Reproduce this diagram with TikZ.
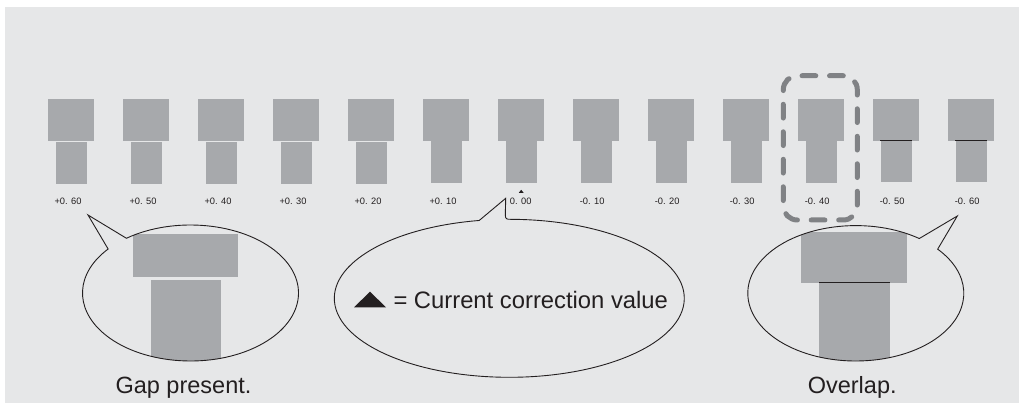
\documentclass[tikz,border=0pt]{standalone}
\usepackage{fontspec}
\setmainfont{Liberation Sans}
\definecolor{bgc}{HTML}{E6E7E8}
\definecolor{blk}{HTML}{A7A9AC}
\definecolor{dsh}{HTML}{808285}
\definecolor{ink}{HTML}{231F20}
\tikzset{
  topblk/.style={fill=blk, draw=none, inner sep=0pt, minimum width=46pt, minimum height=41.7pt},
  botblk/.style={fill=blk, draw=none, inner sep=0pt, minimum width=31pt, minimum height=42pt},
  seam/.style={draw=ink, line width=0.8pt},
  vallab/.style={font=\fontsize{9.3}{10}\selectfont, text=ink, inner sep=0pt},
  bubble/.style={draw=ink, line width=0.9pt, line join=miter},
  bigtxt/.style={font=\fontsize{23.5}{26}\selectfont, text=ink, inner sep=0pt},
  midtxt/.style={font=\fontsize{23.8}{26}\selectfont, text=ink, inner sep=0pt},
  hilite/.style={draw=dsh, line width=5pt, dash pattern=on 13.75pt off 13.75pt, line cap=round, rounded corners=14pt, inner sep=0pt, fill=none}
}
\begin{document}
\begin{tikzpicture}[x=1pt,y=-1pt]
\useasboundingbox (0,0) rectangle (1019,403);
\fill[bgc] (5,7) rectangle (1019,403);

% row of samples
\foreach \i/\lab/\by/\ln/\dx in {
  0/+0. 60/142/0/10.7, 1/+0. 50/142/0/10.7, 2/+0. 40/142/0/10.7,
  3/+0. 30/142/0/10.7, 4/+0. 20/142/0/10.7, 5/+0. 10/141/0/10.7,
  6/0. 00/141/0/10.7, 7/-0. 10/141/0/8.7, 8/-0. 20/141/0/8.7,
  9/-0. 30/141/0/8.7, 10/-0. 40/141/0/8.7, 11/-0. 50/140/1/8.7,
  12/-0. 60/140/1/8.7}{
  \node[topblk] (top\i) at ({71+75*\i},119.85) {};
  \node[botblk, anchor=north] (bot\i) at ({71+75*\i},\by) {};
  \ifnum\ln=1
    \draw[seam] (bot\i.north west) -- (bot\i.north east);
  \fi
  \node[vallab, anchor=base east] (lab\i) at ({71+75*\i+\dx},205) {\lab};
}

% current value marker
\fill[ink] (518.8,192.8) -- (523.6,192.8) -- (521.2,189.8) -- cycle;

% highlight around -0.40
\node[hilite, minimum width=74pt, minimum height=144.3pt] (hl) at (820.3,147.85) {};

% left callout: gap
\coordinate (cL) at (190.5,293);
\coordinate (tipL) at (88,215);
\begin{scope}
  \clip (cL) ellipse [x radius=108pt, y radius=68pt];
  \fill[blk] (133,234) rectangle (238,277);
  \fill[blk] (151,280) rectangle (221,370);
\end{scope}
\draw[bubble] (cL) ++(126.4:108pt and 68pt)
  arc[start angle=126.4, end angle=-220.3, x radius=108pt, y radius=68pt]
  -- (tipL) -- cycle;
\node[bigtxt, anchor=base] (gap) at (183.5,393.5) {Gap present.};

% right callout: overlap
\coordinate (cR) at (855.8,293.3);
\coordinate (tipR) at (957.3,216);
\begin{scope}
  \clip (cR) ellipse [x radius=108pt, y radius=67.7pt];
  \fill[blk] (801,232) rectangle (907,282.7);
  \fill[blk] (819,282) rectangle (890,370);
  \draw[seam] (819,282.3) -- (890,282.3);
\end{scope}
\draw[bubble] (cR) ++(54:108pt and 67.7pt)
  arc[start angle=54, end angle=400.7, x radius=108pt, y radius=67.7pt]
  -- (tipR) -- cycle;
\node[bigtxt, anchor=base] (ovl) at (852.2,393.3) {Overlap.};

% centre callout: legend
\coordinate (cC) at (509.3,298.3);
\coordinate (tipC) at (505.7,198.3);
\draw[bubble] (cC) ++(89.4:175pt and 79pt) coordinate (sC)
  arc[start angle=89.4, end angle=-260.1, x radius=175pt, y radius=79pt]
  -- (tipC) -- (505.3,215) .. controls (505.3,219.3) and (507,219.4) .. (sC);
\fill[ink] (354,307.3) -- (386,307.3) -- (370,291.7) -- cycle;
\node[midtxt, anchor=base west] (legend) at (393.3,308.3) {= Current correction value};
\end{tikzpicture}
\end{document}
